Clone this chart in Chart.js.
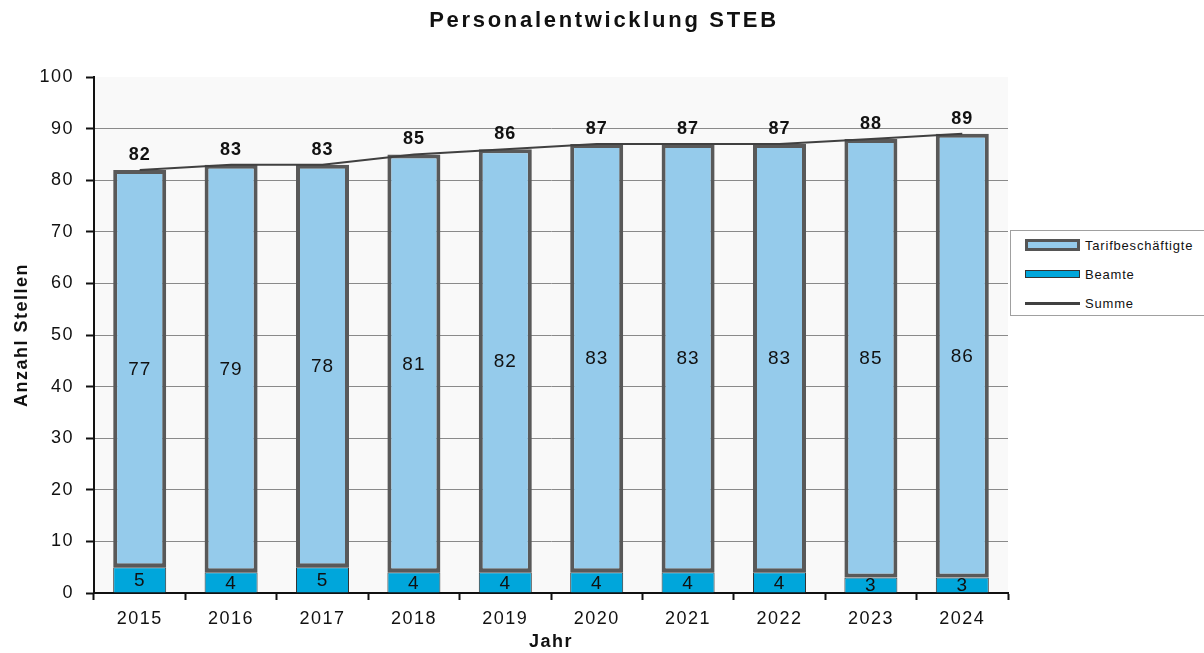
<!DOCTYPE html>
<html><head><meta charset="utf-8">
<script src="https://cdn.jsdelivr.net/npm/chart.js@4/dist/chart.umd.min.js"></script>
<style>
html,body{margin:0;padding:0;background:#fff;overflow:hidden;}
#wrap{position:relative;width:1204px;height:653px;}
#legend{position:absolute;left:1010px;top:230px;width:220px;height:86px;border:1px solid #a0a0a0;background:#fff;font-family:"Liberation Sans",Arial,sans-serif;font-size:13px;letter-spacing:0.8px;color:#111;box-sizing:border-box;}
.li{position:absolute;left:14px;height:16px;display:flex;align-items:center;}
.sw{width:55px;margin-right:5px;box-sizing:border-box;}
</style></head>
<body><div id="wrap"><canvas id="c" width="1204" height="653"></canvas>
<div id="legend">
 <div class="li" style="top:6px"><div class="sw" style="height:12px;border:3px solid #555;background:#95cbeb"></div><span>Tarifbeschäftigte</span></div>
 <div class="li" style="top:35px"><div class="sw" style="height:8px;border:1px solid #333;background:#00a6db"></div><span>Beamte</span></div>
 <div class="li" style="top:64px"><div class="sw" style="height:3px;background:#404040"></div><span>Summe</span></div>
</div></div>
<script>
const years = ["2015","2016","2017","2018","2019","2020","2021","2022","2023","2024"];
const beamte = [5,4,5,4,4,4,4,4,3,3];
const tarif = [77,79,78,81,82,83,83,83,85,86];
const summe = [82,83,83,85,86,87,87,87,88,89];
const titleText = 'Personalentwicklung STEB';

const FONT = '"Liberation Sans", Arial, sans-serif';
const canvas = document.getElementById('c');

const spacingPlugin = {
  id:'spacing',
  beforeLayout(chart){ chart.ctx.letterSpacing = '1.5px'; },
  beforeDraw(chart){ chart.ctx.letterSpacing = '1.5px'; }
};
const bgPlugin = {
  id:'bg',
  beforeDraw(chart){
    const {ctx, chartArea:a} = chart;
    ctx.save(); ctx.fillStyle='#f9f9f9';
    ctx.fillRect(a.left,a.top,a.right-a.left,a.bottom-a.top);
    ctx.restore();
  }
};
const labelPlugin = {
  id:'lbl',
  afterDatasetsDraw(chart){
    const ctx = chart.ctx;
    ctx.save();
    ctx.textAlign='center'; ctx.textBaseline='middle'; ctx.fillStyle='#111';
    ctx.letterSpacing='1px';
    [1,2].forEach(di=>{
      const meta = chart.getDatasetMeta(di);
      meta.data.forEach((el,i)=>{
        const v = chart.data.datasets[di].data[i];
        const p = el.getProps(['x','y','base'],true);
        ctx.font = '19px '+FONT;
        ctx.fillText(String(v), p.x, (p.y+p.base)/2 + 1);
      });
    });
    const lm = chart.getDatasetMeta(0);
    ctx.font = 'bold 18px '+FONT;
    lm.data.forEach((el,i)=>{
      ctx.fillText(String(summe[i]), el.x, el.y-15);
    });
    ctx.font = 'bold 22px '+FONT;
    ctx.letterSpacing='2.7px';
    ctx.fillText(titleText, chart.width/2 + 2, 21);
    ctx.restore();
  }
};

new Chart(canvas, {
  data:{
    labels: years,
    datasets:[
      {type:'line', label:'Summe', data: summe, borderColor:'#404040', borderWidth:2, pointRadius:0, tension:0, order:0},
      {type:'bar', label:'Beamte', data: beamte, backgroundColor:'#00a6db', borderColor:'#333', borderWidth:1, stack:'s', order:1, barPercentage:0.58, categoryPercentage:1},
      {type:'bar', label:'Tarifbeschäftigte', data: tarif, backgroundColor:'#95cbeb', borderColor:'#595959', borderWidth:4, borderSkipped:false, stack:'s', order:2, barPercentage:0.58, categoryPercentage:1}
    ]
  },
  options:{
    responsive:false, animation:false,
    layout:{padding:{left:0,right:196,top:77,bottom:0}},
    plugins:{ legend:{display:false}, tooltip:{enabled:false}, title:{display:false} },
    scales:{
      x:{stacked:true, offset:true,
        afterFit(s){ s.height = 60; },
        grid:{offset:true, drawOnChartArea:false, tickLength:7, tickColor:'#111', tickWidth:2},
        border:{color:'#111', width:2},
        ticks:{color:'#111', font:{family:FONT,size:18}, padding:8},
        title:{display:true, text:'Jahr', color:'#111', font:{family:FONT,size:18,weight:'bold'}, padding:{top:0,bottom:0}}
      },
      y:{stacked:true, min:0, max:100,
        afterFit(s){ s.width = 94; },
        grid:{color:(c)=> (c.tick && c.tick.value===100) ? 'rgba(0,0,0,0)' : '#8a8a8a', lineWidth:1, tickLength:8, tickColor:'#111', tickWidth:2},
        border:{color:'#111', width:2},
        ticks:{stepSize:10, color:'#111', font:{family:FONT,size:18}, padding:12},
        title:{display:true, text:'Anzahl Stellen', color:'#111', font:{family:FONT,size:18,weight:'bold'}, padding:{top:11,bottom:0}}
      }
    }
  },
  plugins:[spacingPlugin,bgPlugin,labelPlugin]
});
</script></body></html>
